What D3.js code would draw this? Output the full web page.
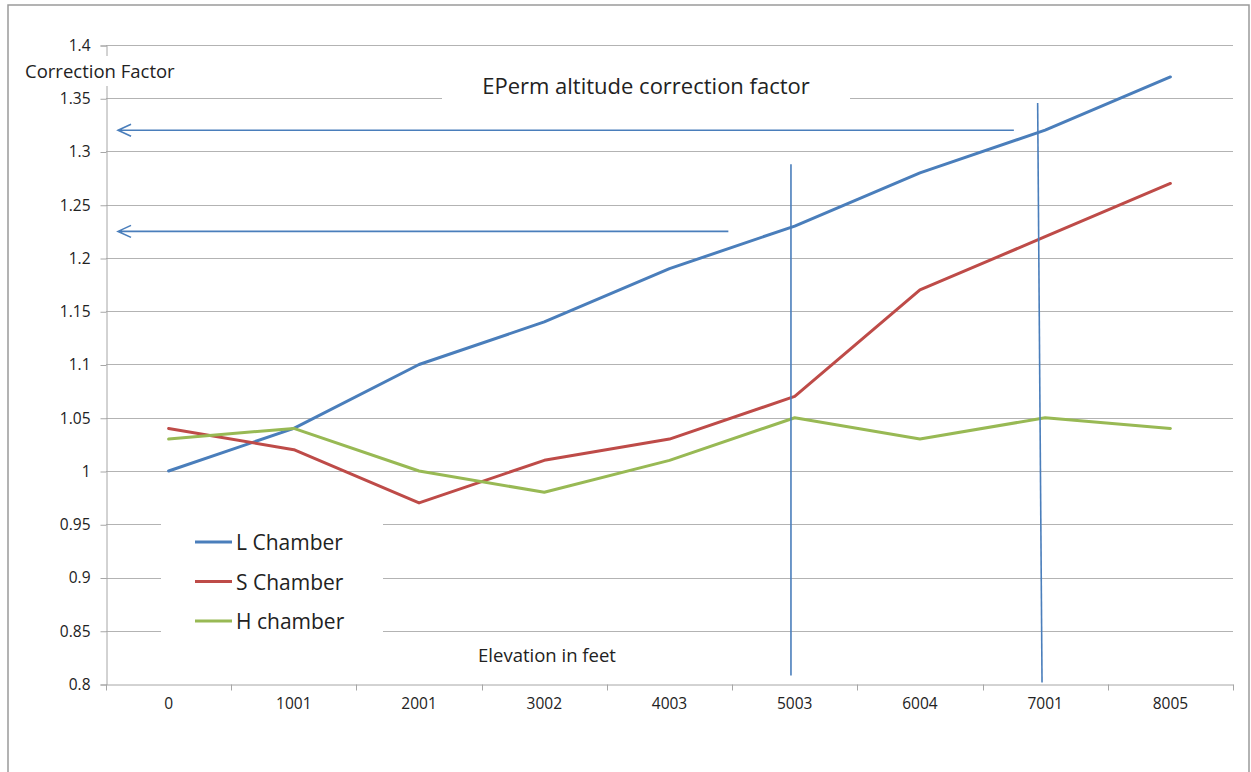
<!doctype html>
<html lang="en">
<head>
<meta charset="UTF-8">
<title>EPerm altitude correction factor</title>
<script src="https://d3js.org/d3.v7.min.js"></script>
<style>
  body { margin: 0; background: #fff; }
  text { font-family: "Open Sans", "Noto Sans", sans-serif; fill: #222; }
</style>
</head>
<body>
<script>
// data
var elevations = ["0", "1001", "2001", "3002", "4003", "5003", "6004", "7001", "8005"];
var lChamber = [1.00, 1.04, 1.10, 1.14, 1.19, 1.23, 1.28, 1.32, 1.37];
var sChamber = [1.04, 1.02, 0.97, 1.01, 1.03, 1.07, 1.17, 1.22, 1.27];
var hChamber = [1.03, 1.04, 1.00, 0.98, 1.01, 1.05, 1.03, 1.05, 1.04];
var seriesNames = ["L Chamber", "S Chamber", "H chamber"];
var seriesColors = ["#4a7ebb", "#be4b48", "#98b954"];
var yTicks = [0.8, 0.85, 0.9, 0.95, 1, 1.05, 1.1, 1.15, 1.2, 1.25, 1.3, 1.35, 1.4];

// hand drawn marks on the original (in category index / value units)
var markerLines = [
    { i0: 4.97, i1: 4.97, top: 1.288, bottom: 0.808 },
    { i0: 6.94, i1: 6.975, top: 1.3455, bottom: 0.8015 }
];
var arrows = [
    { from: 6.75, to: -0.404, value: 1.32 },
    { from: 4.47, to: -0.404, value: 1.225 }
];

var width = 1251, height = 772;
var plotLeft = 106, plotRight = 1233, plotTop = 45, plotBottom = 684;

var svg = d3.select("body").append("svg")
    .attr("width", width)
    .attr("height", height);

// outer frame
svg.append("rect")
    .attr("x", 8).attr("y", 5)
    .attr("width", 1241).attr("height", 800)
    .attr("fill", "none")
    .attr("stroke", "#9a9a9a")
    .attr("stroke-width", 1.5);

var x = d3.scaleBand().domain(elevations).range([plotLeft, plotRight]);
var xi = d3.scaleLinear().domain([-0.5, elevations.length - 0.5]).range([plotLeft, plotRight]);
var y = d3.scaleLinear().domain([0.8, 1.4]).range([plotBottom, plotTop]);

// gridlines
svg.append("g")
    .selectAll("line")
    .data(yTicks.slice(1))
    .enter()
    .append("line")
        .attr("x1", plotLeft).attr("x2", plotRight)
        .attr("y1", function(d) { return Math.round(y(d)) + 0.5; })
        .attr("y2", function(d) { return Math.round(y(d)) + 0.5; })
        .attr("stroke", "#b3b3b3")
        .attr("stroke-width", 1);

// y axis
var yAxis = svg.append("g")
    .attr("transform", "translate(" + (plotLeft + 0.5) + ",0.5)")
    .call(d3.axisLeft(y).tickValues(yTicks).tickSize(6).tickPadding(10)
        .tickFormat(function(d) { return String(+d.toFixed(2)); }));
yAxis.selectAll("path, line").attr("stroke", "#a6a6a6");
yAxis.selectAll("text").style("font-size", "15.5px").attr("fill", "#333");

// x axis
var xAxis = svg.append("g")
    .attr("transform", "translate(0," + (Math.round(plotBottom) + 0.5) + ")")
    .call(d3.axisBottom(x).tickSize(0).tickPadding(13));
xAxis.select(".domain").attr("stroke", "#a6a6a6");
xAxis.selectAll("text").style("font-size", "15.5px").attr("fill", "#333");
xAxis.append("g")
    .selectAll("line")
    .data(d3.range(elevations.length + 1))
    .enter()
    .append("line")
        .attr("x1", function(d) { return Math.round(xi(d - 0.5)) + 0.5; })
        .attr("x2", function(d) { return Math.round(xi(d - 0.5)) + 0.5; })
        .attr("y1", 0).attr("y2", 6)
        .attr("stroke", "#a6a6a6");

// series lines
var series = [lChamber, sChamber, hChamber];
var line = d3.line()
    .x(function(d, i) { return x(elevations[i]) + x.bandwidth() / 2; })
    .y(function(d) { return y(d); });

svg.append("g")
    .selectAll("path")
    .data(series)
    .enter()
    .append("path")
        .attr("d", line)
        .attr("fill", "none")
        .attr("stroke", function(d, i) { return seriesColors[i]; })
        .attr("stroke-width", 3)
        .attr("stroke-linejoin", "round")
        .attr("stroke-linecap", "round");

// y axis title with white box
svg.append("rect")
    .attr("x", 20).attr("y", 56).attr("width", 165).attr("height", 30)
    .attr("fill", "#fff");
svg.append("text")
    .attr("x", 25).attr("y", 78)
    .style("font-size", "18.5px")
    .text("Correction Factor");

// chart title with white box
svg.append("rect")
    .attr("x", 442).attr("y", 70).attr("width", 408).attr("height", 34)
    .attr("fill", "#fff");
svg.append("text")
    .attr("x", 646).attr("y", 94)
    .attr("text-anchor", "middle")
    .style("font-size", "22px")
    .text("EPerm altitude correction factor");

// x axis title
svg.append("text")
    .attr("x", 547).attr("y", 662)
    .attr("text-anchor", "middle")
    .style("font-size", "18.5px")
    .text("Elevation in feet");

// legend
var legend = svg.append("g");
legend.append("rect")
    .attr("x", 161).attr("y", 517).attr("width", 222).attr("height", 122)
    .attr("fill", "#fff");
var items = legend.selectAll("g")
    .data(seriesNames)
    .enter()
    .append("g")
        .attr("transform", function(d, i) { return "translate(195," + (542 + i * 39.5) + ")"; });
items.append("line")
    .attr("x1", 0).attr("x2", 37)
    .attr("stroke", function(d, i) { return seriesColors[i]; })
    .attr("stroke-width", 3);
items.append("text")
    .attr("x", 41).attr("y", 8)
    .style("font-size", "21px")
    .text(function(d) { return d; });

// annotation lines and arrows
var ann = svg.append("g").attr("stroke", "#4a7ebb").attr("fill", "none").attr("stroke-width", 1.6);
ann.selectAll(".marker")
    .data(markerLines)
    .enter()
    .append("line")
        .attr("class", "marker")
        .attr("x1", function(d) { return xi(d.i0); })
        .attr("x2", function(d) { return xi(d.i1); })
        .attr("y1", function(d) { return y(d.top); })
        .attr("y2", function(d) { return y(d.bottom); });
ann.selectAll(".arrow")
    .data(arrows)
    .enter()
    .append("path")
        .attr("class", "arrow")
        .attr("d", function(d) {
            var x0 = xi(d.from), x1 = xi(d.to), yy = y(d.value);
            return "M" + x0 + "," + yy + "H" + x1 +
                "M" + (x1 + 13) + "," + (yy - 6) + "L" + x1 + "," + yy + "L" + (x1 + 13) + "," + (yy + 6);
        });
</script>
</body>
</html>
